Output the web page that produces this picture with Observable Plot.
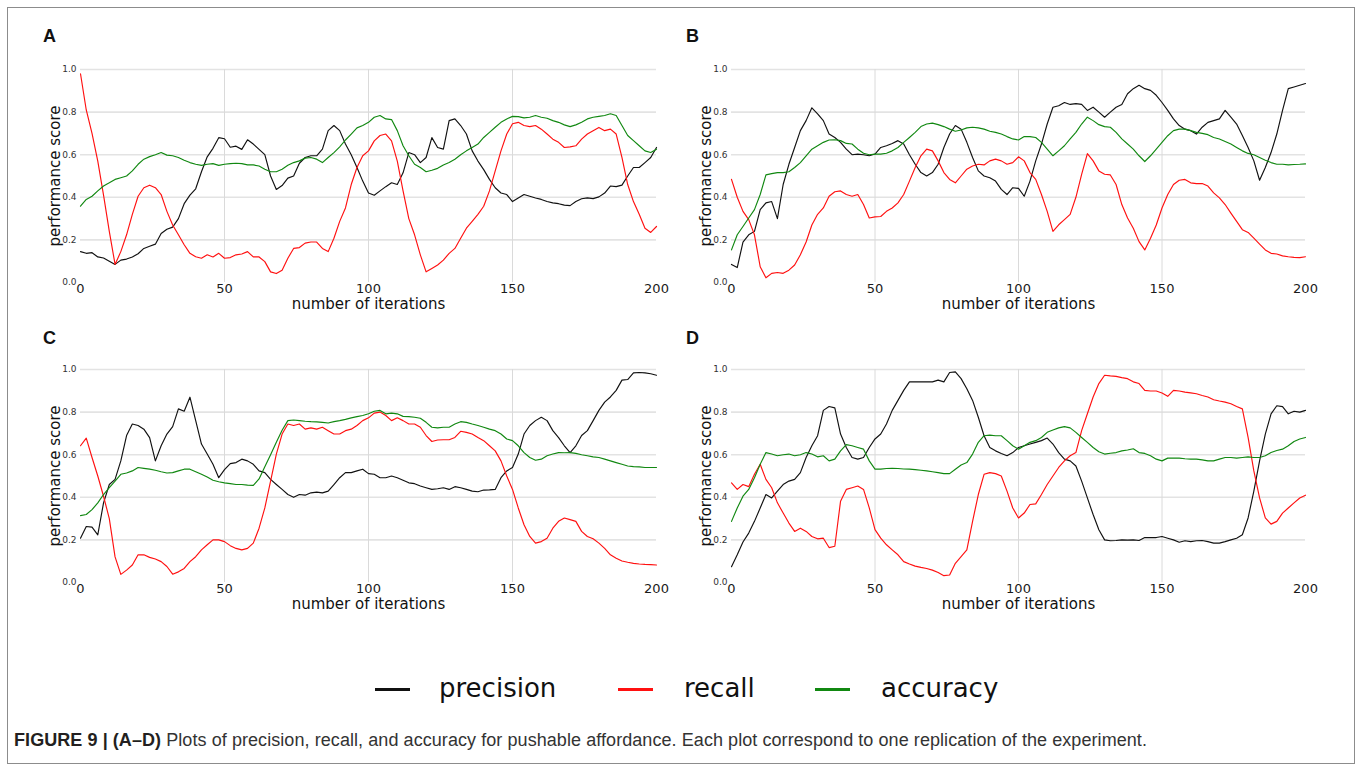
<!DOCTYPE html>
<html>
<head>
<meta charset="utf-8">
<script src="https://cdn.jsdelivr.net/npm/d3@7"></script>
<script src="https://cdn.jsdelivr.net/npm/@observablehq/plot@0.6"></script>
<style>
  html, body { margin: 0; padding: 0; background: #fff; }
  #page { position: relative; width: 1363px; height: 779px; overflow: hidden; background: #fff; }
  #frame { position: absolute; left: 7px; top: 7px; width: 1348px; height: 757px; border: 1.5px solid #8c8c8c; box-sizing: border-box; }
  .panel { position: absolute; }
  .letter { position: absolute; font-family: "Liberation Sans", Arial, sans-serif; font-weight: bold; font-size: 18px; color: #111; line-height: 1; }
  .leg-line { position: absolute; height: 2.5px; }
  .leg-text { position: absolute; font-family: "DejaVu Sans", sans-serif; font-size: 26px; color: #111; line-height: 1; }
  #caption { position: absolute; left: 14px; top: 730px; font-family: "Liberation Sans", Arial, sans-serif; font-size: 18px; color: #333; white-space: nowrap; letter-spacing: 0px; }
  #caption b { color: #231f20; }
</style>
</head>
<body>
<div id="page">
  <div id="frame"></div>
  <div class="letter" style="left:43px; top:27px;">A</div>
  <div class="letter" style="left:686px; top:27px;">B</div>
  <div class="letter" style="left:43px; top:329px;">C</div>
  <div class="letter" style="left:686px; top:329px;">D</div>
  <div id="pA" class="panel" style="left:0px; top:40px;"></div>
  <div id="pB" class="panel" style="left:680px; top:40px;"></div>
  <div id="pC" class="panel" style="left:0px; top:340px;"></div>
  <div id="pD" class="panel" style="left:680px; top:340px;"></div>
  <div id="legend"></div>
  <div id="caption"><b>FIGURE 9 | (A–D)</b> Plots of precision, recall, and accuracy for pushable affordance. Each plot correspond to one replication of the experiment.</div>
</div>
<script>
// ---------- data ----------
const iterations = [0,2,4,6,8,10,12,14,16,18,20,22,24,26,28,30,32,34,36,38,40,42,44,46,48,50,52,54,56,58,60,62,64,66,68,70,72,74,76,78,80,82,84,86,88,90,92,94,96,98,100,102,104,106,108,110,112,114,116,118,120,122,124,126,128,130,132,134,136,138,140,142,144,146,148,150,152,154,156,158,160,162,164,166,168,170,172,174,176,178,180,182,184,186,188,190,192,194,196,198,200];
const metrics = ["precision", "recall", "accuracy"];
const metricColors = ["#111111", "#ff1010", "#118811"];
const xTicks = [0, 50, 100, 150, 200];
const yTicks = [0, 0.2, 0.4, 0.6, 0.8, 1.0];
const xLabel = "number of iterations";
const yLabel = "performance score";

const aPrecision = [.145,.137,.14,.12,.115,.1,.085,.105,.11,.12,
  .135,.16,.17,.18,.23,.25,.26,.30,.37,.41,
  .44,.52,.59,.63,.68,.675,.635,.64,.625,.67,
  .65,.625,.6,.5,.437,.455,.49,.5,.56,.587,
  .595,.595,.626,.713,.737,.713,.65,.6,.54,.476,
  .42,.41,.43,.45,.468,.46,.515,.61,.6,.563,
  .587,.68,.634,.626,.76,.768,.737,.697,.618,.57,
  .53,.484,.445,.42,.413,.38,.397,.413,.405,.397,
  .39,.38,.374,.37,.363,.361,.38,.393,.397,.394,
  .402,.42,.453,.45,.457,.5,.54,.54,.563,.587,
  .634];
const aRecall = [.98,.81,.70,.57,.41,.24,.085,.145,.224,.32,
  .405,.445,.457,.445,.413,.334,.27,.224,.177,.137,
  .121,.114,.13,.12,.137,.114,.117,.13,.134,.145,
  .12,.12,.098,.05,.042,.058,.114,.16,.164,.185,
  .19,.19,.16,.145,.208,.287,.35,.46,.54,.595,
  .618,.665,.69,.697,.665,.57,.43,.3,.224,.13,
  .05,.066,.082,.105,.137,.16,.208,.255,.287,.32,
  .358,.43,.524,.618,.697,.745,.752,.737,.732,.737,
  .72,.697,.673,.658,.634,.637,.642,.673,.697,.713,
  .728,.713,.72,.697,.587,.46,.38,.32,.255,.235,
  .263];
const aAccuracy = [.358,.39,.405,.43,.453,.468,.484,.492,.5,.524,
  .555,.579,.591,.6,.61,.598,.595,.587,.574,.563,
  .555,.55,.555,.558,.55,.555,.558,.56,.558,.552,
  .552,.547,.532,.52,.52,.532,.55,.563,.571,.584,
  .587,.579,.563,.587,.61,.637,.669,.697,.726,.737,
  .752,.776,.784,.768,.765,.713,.642,.595,.555,.54,
  .52,.527,.536,.552,.563,.579,.6,.618,.634,.65,
  .681,.705,.729,.752,.768,.78,.779,.773,.776,.784,
  .776,.771,.76,.752,.74,.732,.74,.752,.768,.776,
  .78,.784,.792,.784,.737,.69,.666,.642,.618,.61,
  .626];

const bPrecision = [.085,.07,.19,.224,.24,.342,.374,.38,.30,.46,
  .555,.634,.713,.76,.82,.792,.76,.697,.681,.658,
  .626,.6,.603,.6,.595,.603,.634,.642,.653,.666,
  .65,.6,.555,.516,.5,.516,.555,.634,.697,.737,
  .72,.658,.587,.524,.5,.492,.476,.437,.413,.445,
  .442,.405,.476,.571,.65,.744,.823,.83,.845,.836,
  .84,.836,.808,.823,.8,.776,.8,.823,.836,.886,
  .91,.926,.91,.902,.879,.845,.808,.768,.737,.72,
  .713,.697,.729,.752,.76,.768,.808,.776,.744,.69,
  .634,.571,.48,.54,.61,.697,.808,.91,.918,.926,
  .934];
const bRecall = [.484,.4,.334,.295,.224,.074,.022,.043,.047,.043,
  .058,.082,.13,.19,.27,.32,.35,.405,.426,.43,
  .413,.405,.413,.366,.303,.308,.31,.334,.35,.374,
  .413,.476,.54,.595,.626,.618,.571,.516,.484,.468,
  .5,.532,.547,.555,.552,.571,.579,.571,.555,.563,
  .59,.571,.516,.484,.413,.334,.24,.271,.295,.32,
  .4,.508,.605,.571,.524,.508,.505,.46,.366,.303,
  .255,.192,.153,.208,.27,.35,.413,.46,.48,.484,
  .468,.464,.465,.453,.421,.397,.366,.326,.287,.248,
  .235,.208,.18,.153,.137,.134,.125,.121,.118,.117,
  .121];
const bAccuracy = [.153,.224,.263,.303,.342,.413,.505,.511,.516,.516,
  .52,.54,.563,.595,.626,.642,.658,.669,.67,.666,
  .653,.65,.626,.607,.6,.603,.603,.607,.618,.634,
  .658,.681,.705,.732,.744,.748,.741,.732,.72,.71,
  .716,.726,.729,.726,.72,.71,.705,.697,.685,.674,
  .669,.685,.685,.681,.658,.626,.595,.618,.642,.674,
  .705,.744,.776,.76,.741,.732,.729,.705,.674,.65,
  .626,.595,.568,.595,.626,.658,.689,.713,.72,.72,
  .713,.705,.7,.694,.681,.674,.662,.65,.634,.618,
  .606,.6,.587,.574,.563,.555,.555,.552,.554,.555,
  .557];

const cPrecision = [.208,.263,.26,.224,.374,.46,.484,.571,.69,.744,
  .737,.72,.68,.571,.642,.697,.732,.815,.804,.87,
  .76,.65,.603,.555,.492,.53,.558,.563,.579,.571,
  .555,.524,.516,.484,.46,.437,.413,.4,.413,.41,
  .421,.424,.421,.429,.46,.492,.516,.516,.524,.532,
  .511,.508,.492,.492,.5,.492,.48,.468,.464,.453,
  .445,.437,.44,.445,.437,.45,.445,.437,.429,.426,
  .434,.435,.437,.492,.524,.54,.603,.697,.737,.76,
  .776,.76,.713,.68,.642,.61,.642,.69,.713,.76,
  .808,.847,.871,.902,.95,.953,.984,.986,.984,.98,
  .973];
const cRecall = [.642,.678,.587,.5,.405,.3,.12,.038,.058,.082,
  .13,.13,.118,.11,.098,.075,.039,.05,.066,.098,
  .121,.153,.177,.2,.2,.192,.173,.16,.153,.16,
  .185,.255,.35,.476,.603,.697,.744,.737,.744,.72,
  .726,.72,.729,.713,.697,.697,.713,.72,.737,.76,
  .773,.795,.8,.784,.76,.773,.76,.744,.744,.729,
  .69,.662,.669,.67,.67,.681,.71,.705,.697,.681,
  .666,.642,.618,.571,.5,.437,.35,.271,.216,.185,
  .192,.208,.255,.287,.303,.295,.287,.24,.216,.205,
  .185,.16,.13,.114,.101,.095,.09,.087,.085,.084,
  .082];
const cAccuracy = [.314,.319,.342,.374,.413,.445,.476,.508,.514,.524,
  .54,.536,.532,.527,.52,.514,.516,.524,.532,.532,
  .52,.508,.495,.48,.473,.468,.464,.46,.46,.457,
  .456,.486,.543,.6,.658,.715,.76,.763,.76,.757,
  .755,.754,.752,.749,.755,.76,.766,.773,.779,.784,
  .792,.804,.808,.792,.795,.792,.78,.779,.776,.771,
  .752,.729,.726,.729,.729,.744,.755,.752,.744,.737,
  .729,.72,.713,.697,.674,.666,.642,.61,.587,.574,
  .579,.595,.603,.61,.609,.61,.606,.6,.595,.59,
  .587,.579,.571,.563,.555,.547,.544,.543,.54,.54,
  .54];

const dPrecision = [.074,.13,.19,.232,.287,.35,.413,.397,.429,.46,
  .476,.484,.516,.587,.642,.689,.808,.826,.82,.697,
  .634,.587,.579,.587,.634,.674,.697,.744,.808,.855,
  .902,.942,.942,.942,.942,.942,.95,.942,.986,.989,
  .957,.91,.855,.776,.689,.634,.618,.606,.595,.61,
  .634,.642,.65,.658,.666,.678,.65,.61,.579,.571,
  .547,.476,.397,.319,.248,.2,.196,.197,.2,.199,
  .2,.197,.211,.211,.211,.216,.208,.2,.189,.196,
  .192,.196,.197,.192,.185,.185,.192,.2,.208,.224,
  .303,.429,.571,.697,.792,.83,.826,.792,.804,.8,
  .808];
const dRecall = [.468,.437,.46,.45,.508,.555,.484,.445,.374,.326,
  .279,.24,.255,.24,.216,.205,.208,.164,.17,.382,
  .437,.445,.453,.437,.35,.248,.208,.177,.153,.13,
  .098,.087,.077,.071,.066,.058,.047,.032,.035,.09,
  .121,.153,.287,.413,.508,.516,.511,.5,.429,.35,
  .303,.326,.366,.369,.413,.46,.5,.54,.571,.595,
  .61,.713,.792,.871,.934,.973,.97,.968,.962,.957,
  .942,.934,.902,.899,.899,.89,.874,.902,.899,.894,
  .89,.886,.878,.871,.858,.852,.847,.839,.826,.815,
  .681,.524,.397,.303,.274,.287,.326,.35,.374,.397,
  .41];
const dAccuracy = [.287,.35,.405,.437,.492,.555,.61,.603,.595,.6,
  .603,.595,.6,.61,.603,.59,.595,.571,.579,.618,
  .647,.642,.634,.626,.571,.532,.532,.535,.536,.535,
  .533,.532,.53,.527,.524,.52,.516,.511,.511,.532,
  .552,.563,.603,.658,.689,.692,.689,.689,.666,.642,
  .626,.642,.658,.666,.681,.705,.716,.726,.732,.726,
  .705,.681,.658,.634,.614,.603,.607,.61,.618,.622,
  .628,.61,.606,.595,.579,.571,.584,.584,.584,.581,
  .579,.579,.576,.571,.571,.579,.587,.587,.584,.587,
  .59,.587,.587,.595,.61,.62,.626,.642,.662,.674,
  .681];

// ---------- build ----------
function rows(seriesList) {
  const out = [];
  seriesList.forEach((vals, k) => {
    vals.forEach((v, i) => out.push({iteration: iterations[i], value: v, metric: metrics[k]}));
  });
  return out;
}

function make(id, series, ml, mr, w) {
  const chart = Plot.plot({
    width: w, height: 290,
    marginLeft: ml, marginRight: mr, marginTop: 29, marginBottom: 48,
    x: {domain: [0, 200]},
    y: {domain: [0, 1]},
    color: {domain: metrics, range: metricColors},
    style: {fontFamily: "DejaVu Sans, sans-serif", background: "transparent", overflow: "visible", color: "#222"},
    marks: [
      Plot.gridY([0.2, 0.4, 0.6, 0.8, 1.0], {stroke: "#e3e3e3", strokeOpacity: 1, strokeWidth: 1.6}),
      Plot.gridX([50, 100, 150], {stroke: "#dadada", strokeOpacity: 1, strokeWidth: 1}),
      Plot.axisX(xTicks, {tickSize: 0, tickPadding: 1, fontSize: 13, fill: "#1a1a1a", label: null}),
      Plot.axisY(yTicks, {tickSize: 0, tickPadding: 4, fontSize: 9, fill: "#333", tickFormat: d => d.toFixed(1), label: null}),
      Plot.line(rows(series), {x: "iteration", y: "value", z: "metric", stroke: "metric", strokeWidth: 1.15}),
      Plot.text([xLabel], {frameAnchor: "bottom", lineAnchor: "middle", textAnchor: "middle", dy: 22, fontSize: 15, fill: "#111"}),
      Plot.text([yLabel], {frameAnchor: "left", lineAnchor: "middle", textAnchor: "middle", rotate: -90, dx: -25, fontSize: 15, fill: "#111"})
    ]
  });
  document.getElementById(id).appendChild(chart);
}

make("pA", [aPrecision, aRecall, aAccuracy], 80, 24, 680);
make("pB", [bPrecision, bRecall, bAccuracy], 51, 58, 683);
make("pC", [cPrecision, cRecall, cAccuracy], 80, 24, 680);
make("pD", [dPrecision, dRecall, dAccuracy], 51, 58, 683);

// ---------- legend ----------
const legendLineX = [375, 618, 815];
const legendTextX = [439, 684, 881];
const legend = document.getElementById("legend");
metrics.forEach((m, i) => {
  const ln = document.createElement("div");
  ln.className = "leg-line";
  ln.style.left = legendLineX[i] + "px";
  ln.style.top = "688px";
  ln.style.width = "35px";
  ln.style.background = metricColors[i];
  legend.appendChild(ln);
  const tx = document.createElement("div");
  tx.className = "leg-text";
  tx.style.left = legendTextX[i] + "px";
  tx.style.top = "675px";
  tx.textContent = m;
  legend.appendChild(tx);
});

// fit caption to the reference's line length
const cap = document.getElementById("caption");
const capW = cap.getBoundingClientRect().width;
const targetW = 1133;
const nChars = cap.textContent.length;
cap.style.letterSpacing = ((targetW - capW) / nChars).toFixed(3) + "px";
</script>
</body>
</html>
